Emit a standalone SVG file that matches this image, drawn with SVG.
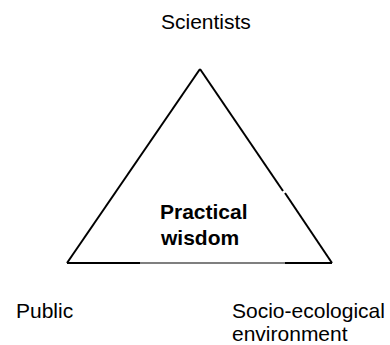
<svg xmlns="http://www.w3.org/2000/svg" width="390" height="345" viewBox="0 0 390 345">
<style>
.lbl{font-family:"Liberation Sans",Arial,sans-serif;font-size:21px;fill:#000}
.bold{font-weight:bold}
.edge{stroke:#000;stroke-width:2;fill:none}
.grey{stroke:#555;stroke-width:1.5;fill:none}
</style>
<rect width="390" height="345" fill="#fff"/>
<g id="connectors">
<line class="edge" x1="67" y1="263" x2="200" y2="69"/>
<line class="edge" x1="200" y1="69" x2="283" y2="191"/>
<line class="edge" x1="285" y1="193" x2="332" y2="263"/>
<line class="edge" x1="67" y1="263" x2="140" y2="263"/>
<line class="grey" x1="140" y1="263" x2="285" y2="263"/>
<line class="edge" x1="285" y1="263" x2="332" y2="263"/>
</g>
<g id="scientists"><text class="lbl" x="161" y="29">Scientists</text></g>
<g id="practical-wisdom"><text class="lbl bold" x="160" y="219">Practical</text><text class="lbl bold" x="161" y="245">wisdom</text></g>
<g id="public"><text class="lbl" x="16" y="318">Public</text></g>
<g id="socio-ecological"><text class="lbl" x="232" y="318">Socio-ecological</text><text class="lbl" x="232" y="341">environment</text></g>
</svg>
